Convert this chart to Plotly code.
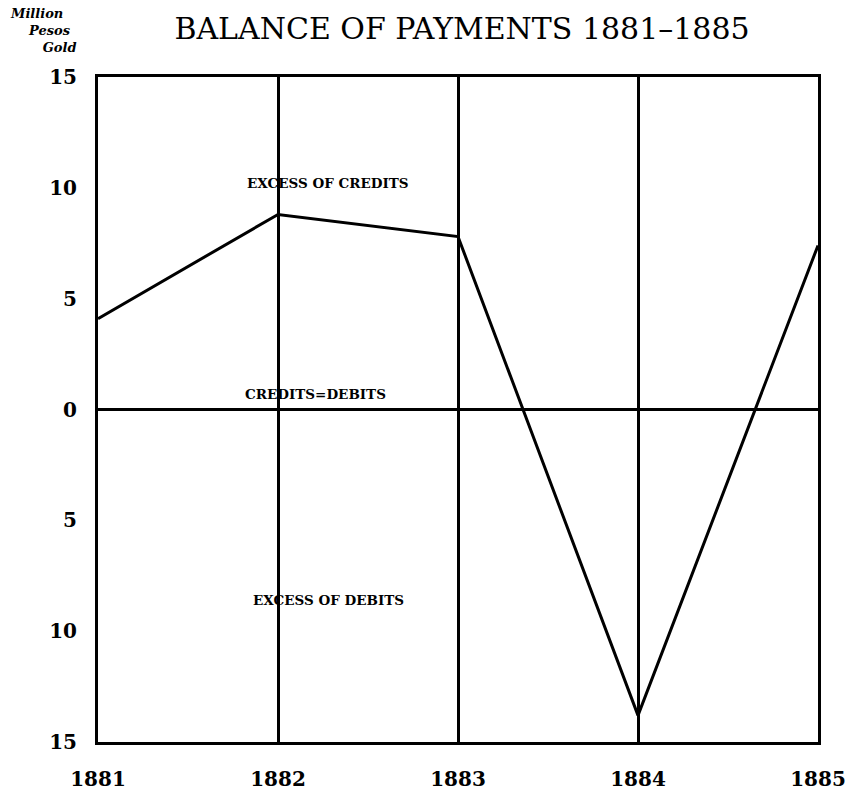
import plotly.graph_objects as go

years = [1881, 1882, 1883, 1884, 1885]
balance = [4.1, 8.8, 7.8, -13.8, 7.4]
ytick_vals = [15, 10, 5, 0, -5, -10, -15]
ytick_text = ["15", "10", "5", "0", "5", "10", "15"]
xtick_text = ["1881", "1882", "1883", "1884", "1885"]

serif = "DejaVu Serif, Liberation Serif, serif"
W, H = 847, 802
ML, MR, MT, MB = 98, 29, 77, 60
PW, PH = W - ML - MR, H - MT - MB

fig = go.Figure()
fig.add_trace(go.Scatter(x=years, y=balance, mode="lines",
                         line=dict(color="black", width=3), showlegend=False))

fig.update_layout(
    width=W, height=H,
    margin=dict(l=ML, r=MR, t=MT, b=MB, autoexpand=False),
    paper_bgcolor="white", plot_bgcolor="white",
    title=dict(text="BALANCE OF PAYMENTS 1881–1885", x=462 / W, xanchor="center",
               xref="container", y=1 - 28 / H, yanchor="middle", yref="container",
               font=dict(family=serif, size=30, color="black")),
    xaxis=dict(range=[1881, 1885], tickvals=years, ticktext=xtick_text,
               showgrid=True, gridcolor="black", gridwidth=2.5,
               showline=True, linecolor="black", linewidth=3, mirror=True,
               zeroline=False, ticks="", ticklabelstandoff=17, automargin=False,
               tickfont=dict(family=serif, size=20, color="black", weight="bold")),
    yaxis=dict(range=[-15, 15], tickvals=ytick_vals, ticktext=ytick_text,
               showgrid=False, zeroline=True, zerolinecolor="black", zerolinewidth=2.5,
               showline=True, linecolor="black", linewidth=3, mirror=True,
               ticks="", ticklabelstandoff=14, automargin=False,
               tickfont=dict(family=serif, size=20, color="black", weight="bold")),
)

ann_font = dict(family=serif, size=13.5, color="black", weight="bold")
fig.add_annotation(x=1882.28, y=10.2, text="EXCESS OF CREDITS", showarrow=False,
                   font=ann_font, xanchor="center", yanchor="middle")
fig.add_annotation(x=1882.21, y=0.7, text="CREDITS=DEBITS", showarrow=False,
                   font=ann_font, xanchor="center", yanchor="middle")
fig.add_annotation(x=1882.28, y=-8.6, text="EXCESS OF DEBITS", showarrow=False,
                   font=ann_font, xanchor="center", yanchor="middle")

cap_font = dict(family=serif, size=13, color="black", weight="bold", style="italic")
nb = "&nbsp;"
cx, cy = 8, 4
fig.add_annotation(x=(cx - ML) / PW, y=1 + (MT - cy) / PH,
                   xref="paper", yref="paper", showarrow=False, align="left",
                   xanchor="left", yanchor="top", font=cap_font,
                   text="Million<br>" + nb * 4 + "Pesos<br>" + nb * 7 + "Gold")

fig.write_html("out.html", config={"displayModeBar": False},
               post_script="document.body.style.margin='0';"
                           "document.body.style.overflow='hidden';")
